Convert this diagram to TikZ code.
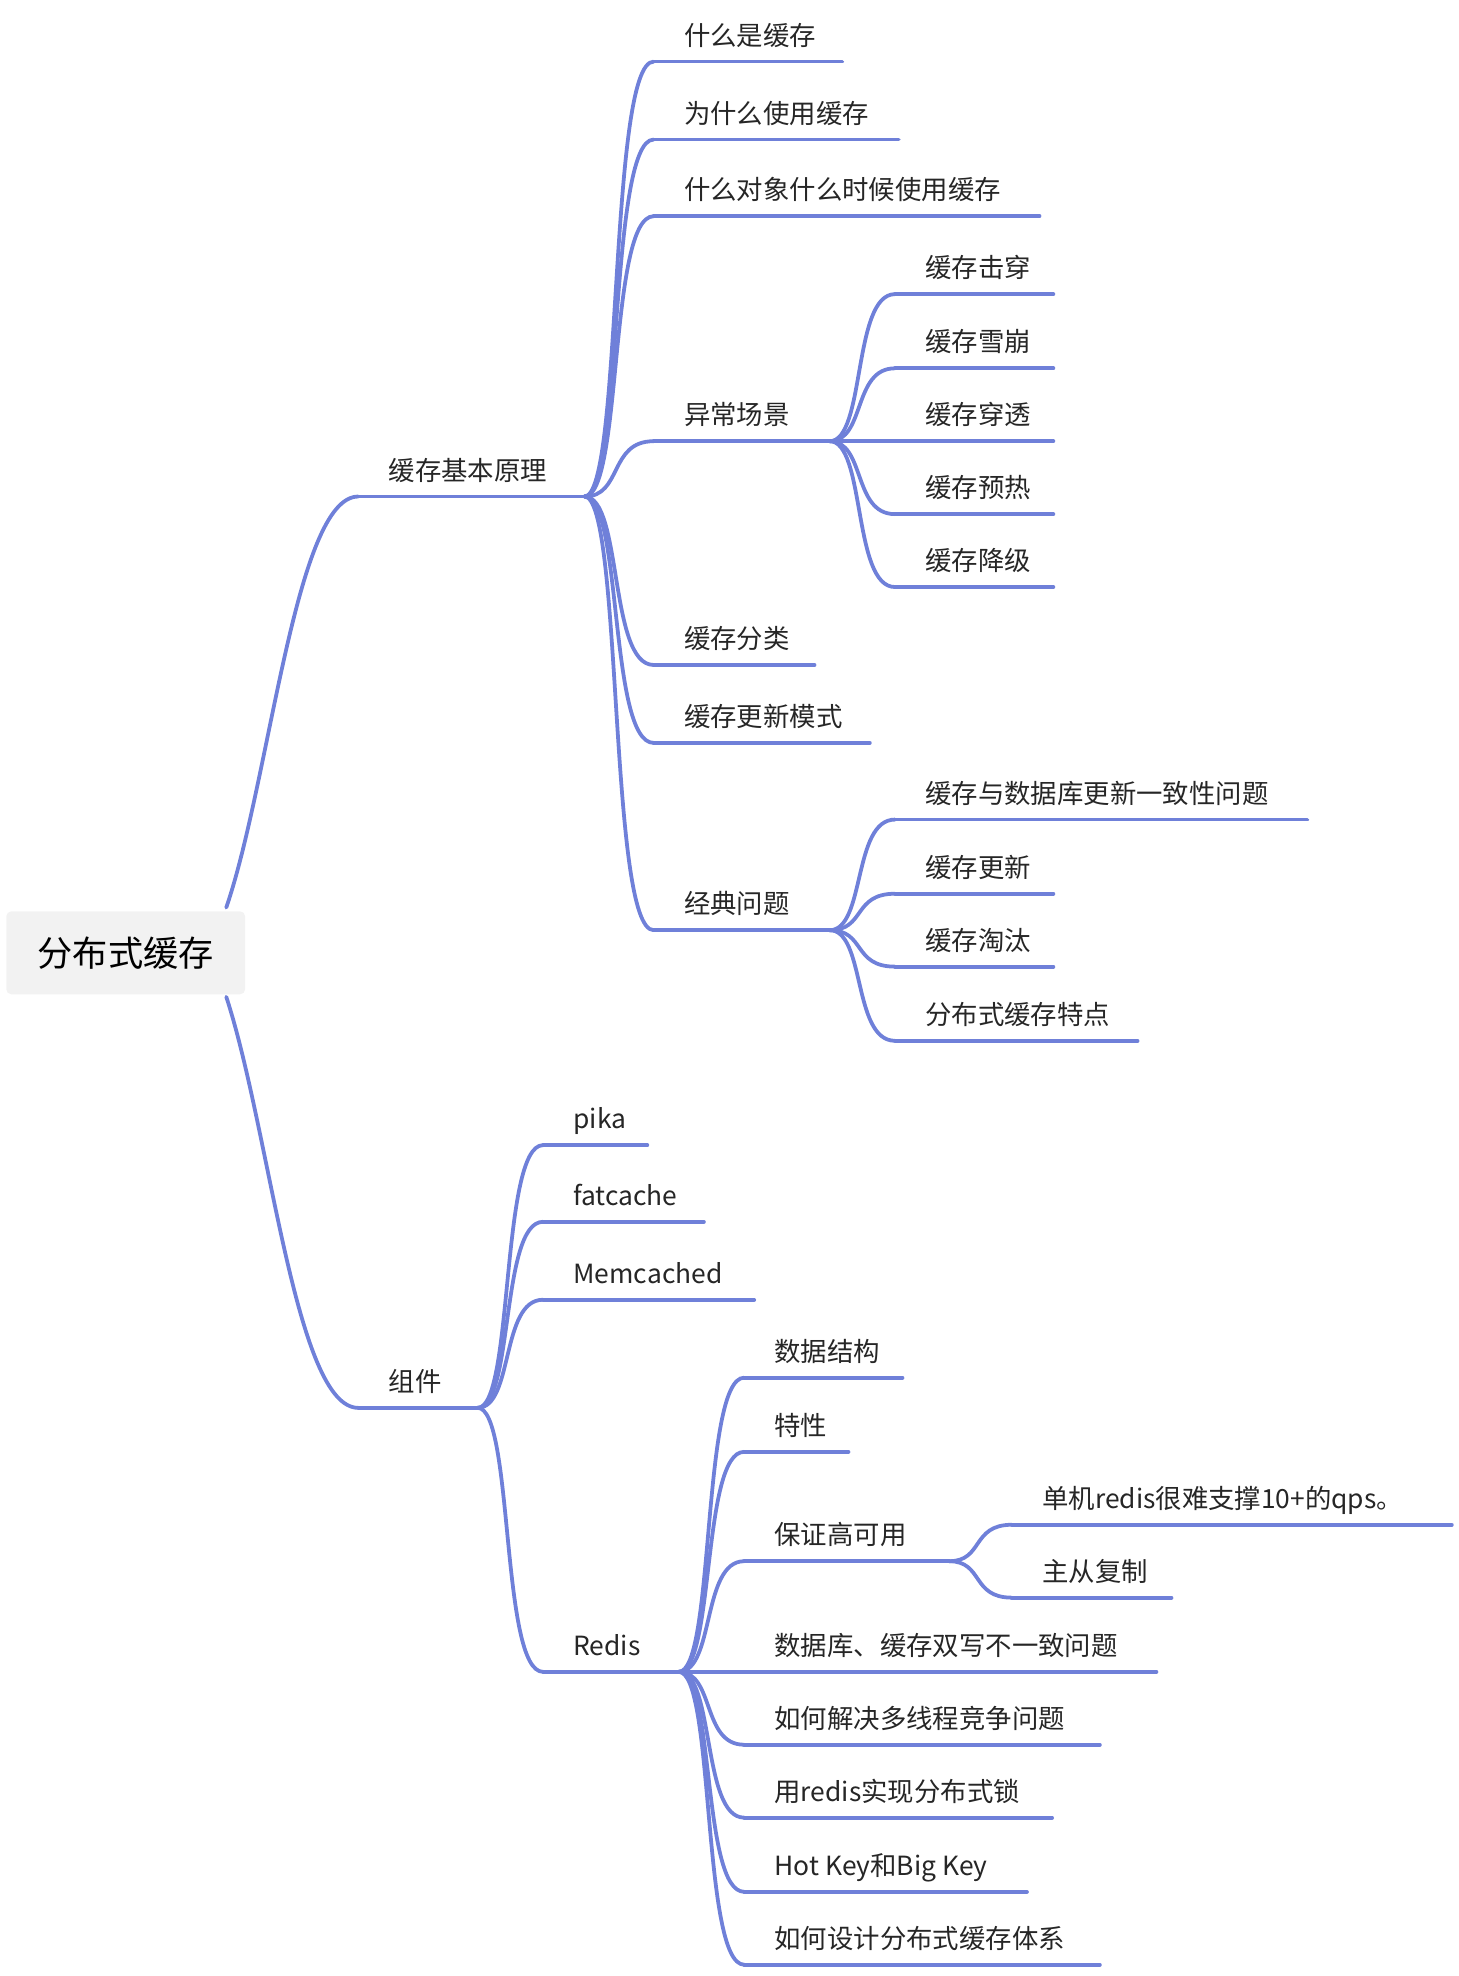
\documentclass[tikz,border=0pt]{standalone}
\usepackage{fontspec}
\setmainfont{Noto Sans CJK SC}
\usetikzlibrary{calc}
\definecolor{lc}{HTML}{6F80D9}
\tikzset{
  lbl/.style={anchor=base west,inner sep=0pt,font=\fontsize{21}{24}\selectfont,text=black!85},
  ln/.style={draw=lc,line width=3pt,line cap=round},
}
\newcommand\br[5]{%
  \node[lbl] (#1) at (#3+24,#4-13) {#2};
  \coordinate (#1-s) at (#3,#4);
  \coordinate (#1-e) at (#5,#4);
  \draw[ln] (#1-s) -- (#1-e);}
\newcommand\conn[2]{%
  \draw[ln] let \p1=(#1-e), \p2=(#2-s) in (\p1) .. controls (\x1*0.45+\x2*0.55,\y1) and (\x1*0.65+\x2*0.35,\y2) .. (\p2);}
\begin{document}
\begin{tikzpicture}[x=1pt,y=-1pt]
\useasboundingbox (0,0) rectangle (1160,1572);
\node[fill=black!5,rounded corners=4pt,minimum width=190pt,minimum height=66pt,font=\fontsize{28}{32}\selectfont] (root) at (100,758) {分布式缓存};
\coordinate (rt-e) at (180,722);
\coordinate (rb-e) at (180,793);
\br{a}{缓存基本原理}{285}{395}{465}
\br{b}{组件}{285}{1120}{380}
\draw[ln] let \p1=(rt-e), \p2=(a-s) in (\p1) .. controls (215,620) and (235,395) .. (\p2);
\draw[ln] let \p1=(rb-e), \p2=(b-s) in (\p1) .. controls (215,900) and (235,1120) .. (\p2);
% level 2 under a
\br{a1}{什么是缓存}{520}{49}{670}
\br{a2}{为什么使用缓存}{520}{111}{715}
\br{a3}{什么对象什么时候使用缓存}{520}{172}{827}
\br{a4}{异常场景}{520}{351}{660}
\br{a5}{缓存分类}{520}{529}{648}
\br{a6}{缓存更新模式}{520}{591}{692}
\br{a7}{经典问题}{520}{740}{660}
\foreach \c in {a1,a2,a3,a4,a5,a6,a7}{\conn{a}{\c}}
\br{a41}{缓存击穿}{712}{234}{838}
\br{a42}{缓存雪崩}{712}{293}{838}
\br{a43}{缓存穿透}{712}{351}{838}
\br{a44}{缓存预热}{712}{409}{838}
\br{a45}{缓存降级}{712}{467}{838}
\foreach \c in {a41,a42,a43,a44,a45}{\conn{a4}{\c}}
\br{a71}{缓存与数据库更新一致性问题}{712}{652}{1040}
\br{a72}{缓存更新}{712}{711}{838}
\br{a73}{缓存淘汰}{712}{769}{838}
\br{a74}{分布式缓存特点}{712}{828}{905}
\foreach \c in {a71,a72,a73,a74}{\conn{a7}{\c}}
% under b
\br{b1}{pika}{432}{911}{515}
\br{b2}{fatcache}{432}{972}{560}
\br{b3}{Memcached}{432}{1034}{600}
\br{b4}{Redis}{432}{1330}{540}
\foreach \c in {b1,b2,b3,b4}{\conn{b}{\c}}
\br{r1}{数据结构}{592}{1096}{718}
\br{r2}{特性}{592}{1155}{675}
\br{r3}{保证高可用}{592}{1242}{755}
\br{r4}{数据库、缓存双写不一致问题}{592}{1330}{920}
\br{r5}{如何解决多线程竞争问题}{592}{1388}{875}
\br{r6}{用redis实现分布式锁}{592}{1446}{837}
\br{r7}{Hot Key和Big Key}{592}{1505}{817}
\br{r8}{如何设计分布式缓存体系}{592}{1563}{875}
\foreach \c in {r1,r2,r3,r4,r5,r6,r7,r8}{\conn{b4}{\c}}
\br{r31}{单机redis很难支撑10+的qps。}{805}{1213}{1155}
\br{r32}{主从复制}{805}{1271}{932}
\foreach \c in {r31,r32}{\conn{r3}{\c}}
\end{tikzpicture}
\end{document}
